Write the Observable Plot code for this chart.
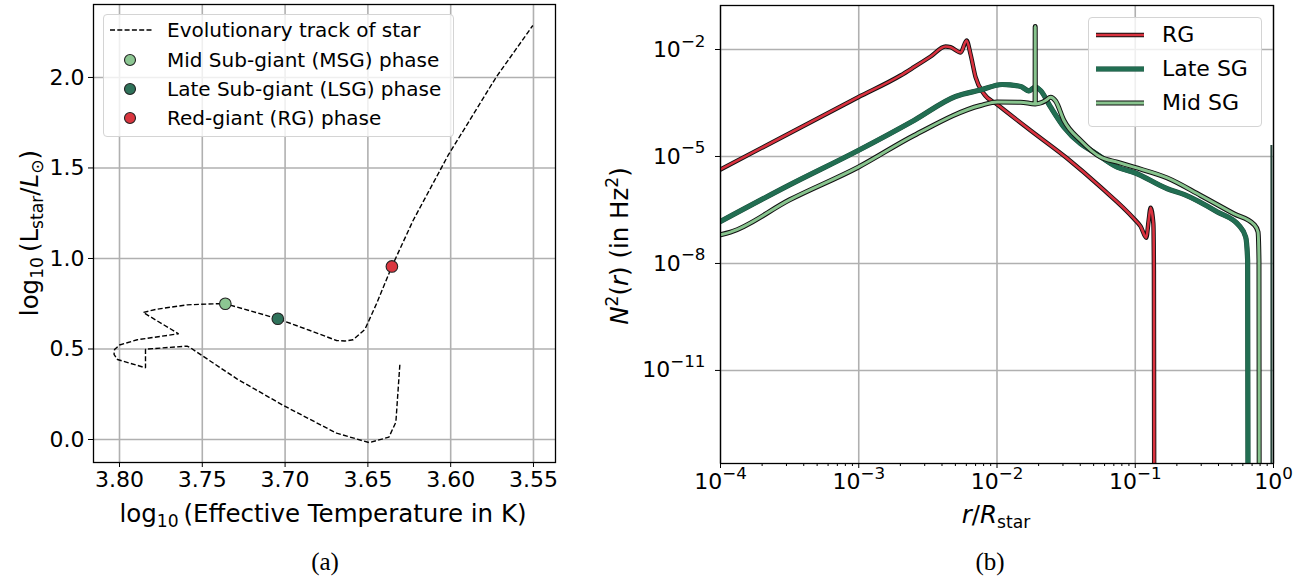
<!DOCTYPE html>
<html><head><meta charset="utf-8">
<script src="https://cdn.jsdelivr.net/npm/d3@7"></script>
<script src="https://cdn.jsdelivr.net/npm/@observablehq/plot@0.6"></script>
<style>
body{margin:0;background:#fff;}
#wrap{position:relative;width:1314px;height:581px;overflow:hidden;font-family:"DejaVu Sans",sans-serif;color:#000;background:#fff;}
.abs{position:absolute;white-space:nowrap;}
.lbl{font-size:24.5px;}
sub{font-size:0.7em;vertical-align:-0.3em;line-height:0}
sup{font-size:0.7em;vertical-align:0.55em;line-height:0}
.cap{font-family:"Liberation Serif",serif;font-size:25px}
.legend{position:absolute;border:1px solid #d4d4d4;border-radius:4px;background:rgba(255,255,255,0.8);box-sizing:border-box;}
svg.plot{position:absolute;top:0;}
</style></head><body><div id="wrap"></div>
<script>
// ---------- Panel (a): HR diagram ----------
const trackTeff = [3.6307,3.6331,3.6373,3.6492,3.6689,3.7010,3.7291,3.7572,3.7592,3.7843,3.7843,3.8012,3.8033,3.8030,3.8000,3.7893,3.7643,3.7857,3.7773,3.7592,3.7411,3.7361,3.7044,3.6849,3.6689,3.6639,3.6589,3.6518,3.6448,3.6355,3.6227,3.6016,3.5725,3.5504];
const trackLogL = [0.413,0.096,0.013,-0.017,0.035,0.188,0.335,0.507,0.516,0.499,0.396,0.442,0.470,0.497,0.522,0.551,0.584,0.702,0.720,0.744,0.750,0.750,0.667,0.602,0.547,0.544,0.551,0.608,0.750,0.956,1.210,1.569,2.002,2.287];
const phaseNames = ["Mid Sub-giant (MSG) phase","Late Sub-giant (LSG) phase","Red-giant (RG) phase"];
const phaseTeff = [3.7361,3.7044,3.6355];
const phaseLogL = [0.750,0.667,0.956];
const phaseColors = ["#8cc692","#2f725a","#d9363f"];
const xTicksA = [3.80,3.75,3.70,3.65,3.60,3.55];
const yTicksA = [0.0,0.5,1.0,1.5,2.0];

// ---------- Panel (b): Brunt-Vaisala frequency ----------
const seriesNames = ["RG","Late SG","Mid SG"];
const seriesColors = ["#d9323f","#226e52","#88c48e"];
const rgLogR  = [-4,-3.004,-2.698,-2.601,-2.480,-2.372,-2.336,-2.263,-2.220,-2.191,-2.155,-2.095,-1.998,-1.757,-1.491,-1.250,-1.009,-0.961,-0.920,-0.903,-0.889,-0.869,-0.865,-0.863];
const rgLogN2 = [-5.364,-3.337,-2.729,-2.496,-2.196,-1.916,-1.936,-2.084,-1.748,-2.140,-2.777,-3.242,-3.542,-4.271,-5.056,-5.860,-6.746,-6.962,-7.279,-6.790,-6.438,-6.886,-8.196,-14];
const lateLogR  = [-4,-3.5,-3.004,-2.601,-2.300,-2.119,-1.962,-1.829,-1.769,-1.724,-1.685,-1.612,-1.516,-1.395,-1.299,-1.130,-1.009,-0.768,-0.648,-0.406,-0.250,-0.201,-0.187,-0.1845];
const lateLogN2 = [-6.822,-5.796,-4.832,-3.990,-3.318,-3.135,-2.981,-3.037,-3.163,-3.051,-3.149,-3.618,-4.178,-4.644,-4.879,-5.300,-5.448,-5.905,-6.065,-6.556,-6.934,-7.262,-7.915,-14];
const midLogR  = [-4,-3.928,-3.5,-3.004,-2.601,-2.119,-1.998,-1.829,-1.7245,-1.7236,-1.7227,-1.685,-1.648,-1.612,-1.576,-1.516,-1.395,-1.250,-1.130,-1.009,-0.768,-0.527,-0.286,-0.141,-0.112,-0.105,-0.1035];
const midLogN2 = [-7.195,-7.122,-6.216,-5.300,-4.411,-3.570,-3.472,-3.477,-3.528,-1.355,-3.528,-3.500,-3.430,-3.337,-3.444,-3.990,-4.551,-5.019,-5.160,-5.300,-5.603,-6.093,-6.606,-6.906,-7.116,-7.915,-14];
const surfaceLogR = [-0.0152];
const surfaceLogN2Top = [-4.69];
const xTicksB = [1e-4,1e-3,1e-2,1e-1,1];
const yTicksB = [1e-2,1e-5,1e-8,1e-11];

const wrap = document.getElementById("wrap");
const font = {fontFamily:"DejaVu Sans", fontSize:"22px", color:"black", background:"transparent", overflow:"visible"};
const gridStyle = {stroke:"#b0b0b0", strokeOpacity:1, strokeWidth:1.6};

// Panel (a)
const track = trackTeff.map((t,i)=>({teff:t, logL:trackLogL[i]}));
const phases = phaseNames.map((n,i)=>({name:n, teff:phaseTeff[i], logL:phaseLogL[i], color:phaseColors[i]}));
const plotA = Plot.plot({
  width:657, height:540, marginLeft:93, marginRight:102, marginTop:4, marginBottom:78,
  style: font,
  x:{domain:[3.8157,3.5367]},
  y:{domain:[-0.127,2.403]},
  marks:[
    Plot.gridX(xTicksA, gridStyle),
    Plot.gridY(yTicksA, gridStyle),
    Plot.line(track, {x:"teff", y:"logL", stroke:"black", strokeWidth:1.4, strokeDasharray:"5,2.3", strokeLinejoin:"miter", strokeLinecap:"butt"}),
    Plot.dot(phases, {x:"teff", y:"logL", r:5.8, fill:"color", stroke:"#222", strokeWidth:1.1}),
    Plot.frame({stroke:"black", strokeWidth:1.3}),
    Plot.axisX(xTicksA, {tickFormat:d3.format(".2f"), tickSize:5, tickPadding:4, label:null}),
    Plot.axisY(yTicksA, {tickFormat:d3.format(".1f"), tickSize:5, tickPadding:4, label:null})
  ]
});
plotA.classList.add("plot");
plotA.style.left = "0px";
wrap.appendChild(plotA);

// Panel (b)
function mk(name, lr, ln){ return lr.map((v,i)=>({series:name, r:10**v, n2:10**ln[i]})); }
const rg = mk("RG", rgLogR, rgLogN2);
const late = mk("Late SG", lateLogR, lateLogN2);
const mid = mk("Mid SG", midLogR, midLogN2);
const surface = surfaceLogR.map((v,i)=>({r:10**v, top:10**surfaceLogN2Top[i], bottom:1e-14}));
const minorB = [];
for (let d=-4; d<0; d++) for (let m=2; m<10; m++) minorB.push(m*10**d);
const fmtPow = v => { const e = Math.round(Math.log10(v)); return "10^" + String(e).replace("-","−"); };
const cv = "monotone-x";
const plotB = Plot.plot({
  width:657, height:540, marginLeft:63, marginRight:41, marginTop:5, marginBottom:77,
  style: font,
  x:{type:"log", domain:[1e-4,1]},
  y:{type:"log", domain:[10**-13.61, 10**-0.766]},
  marks:[
    Plot.gridX(xTicksB, gridStyle),
    Plot.gridY(yTicksB, gridStyle),
    Plot.line(rg, {x:"r", y:"n2", stroke:"#111", strokeWidth:4.4, curve:cv, clip:true}),
    Plot.line(rg, {x:"r", y:"n2", stroke:seriesColors[0], strokeWidth:2.6, curve:cv, clip:true}),
    Plot.line(late, {x:"r", y:"n2", stroke:"#1d4d3b", strokeWidth:5.2, curve:cv, clip:true}),
    Plot.line(late, {x:"r", y:"n2", stroke:seriesColors[1], strokeWidth:4.4, curve:cv, clip:true}),
    Plot.line(mid, {x:"r", y:"n2", stroke:"#111", strokeWidth:5.0, curve:cv, clip:true}),
    Plot.line(mid, {x:"r", y:"n2", stroke:seriesColors[2], strokeWidth:3.0, curve:cv, clip:true}),
    Plot.ruleX(surface, {x:"r", y1:"bottom", y2:"top", stroke:"#27443a", strokeWidth:2, clip:true}),
    Plot.frame({stroke:"black", strokeWidth:1.3}),
    Plot.axisX(minorB, {tickSize:3, tickFormat:()=>"", label:null}),
    Plot.axisX(xTicksB, {tickFormat:fmtPow, tickSize:5, tickPadding:5, label:null}),
    Plot.axisY(yTicksB, {tickFormat:fmtPow, tickSize:5, tickPadding:10, label:null})
  ]
});
plotB.classList.add("plot");
plotB.style.left = "657px";
wrap.appendChild(plotB);
// render power labels with a raised exponent
d3.select(plotB).selectAll("text").each(function(){
  const t = this.textContent;
  if (t.indexOf("^") < 0) return;
  const [base, ex] = t.split("^");
  this.textContent = base;
  d3.select(this).append("tspan").attr("dy","-0.6em").attr("font-size","0.76em").text(ex);
});

// ---------- Labels, legends, captions (HTML) ----------
function add(html, css, cls){ const d=document.createElement("div"); d.className="abs "+(cls||""); d.innerHTML=html; Object.assign(d.style, css); wrap.appendChild(d); return d; }
// axis labels
add('log<sub>10</sub>&#8201;(Effective Temperature in K)', {left:"323px", top:"513px", transform:"translate(-50%,-50%)"}, "lbl");
add('log<sub>10</sub>&#8201;(L<sub>star</sub>/<i>L</i><sub>⊙</sub>)', {left:"29px", top:"233px", transform:"translate(-50%,-50%) rotate(-90deg)"}, "lbl");
add('<i>r</i>/<i>R</i><sub>star</sub>', {left:"996px", top:"514px", transform:"translate(-50%,-50%)"}, "lbl");
add('<i>N</i><sup>2</sup>(<i>r</i>) (in Hz<sup>2</sup>)', {left:"619px", top:"246px", transform:"translate(-50%,-50%) rotate(-90deg)"}, "lbl");
// captions
add('(a)', {left:"325px", top:"562px", transform:"translate(-50%,-50%)"}, "cap");
add('(b)', {left:"990px", top:"562px", transform:"translate(-50%,-50%)"}, "cap");

// legend (a)
const legA = document.createElement("div"); legA.className="legend";
Object.assign(legA.style,{left:"103px", top:"14px", width:"351px", height:"123px"}); wrap.appendChild(legA);
const rowsA = [30,60,89,118];
add('<svg width="46" height="12"><line x1="2" x2="44" y1="6" y2="6" stroke="black" stroke-width="1.4" stroke-dasharray="5,2.3"/></svg>', {left:"108px", top:(rowsA[0]-6)+"px", lineHeight:"0"});
add('Evolutionary track of star', {left:"167px", top:(rowsA[0]-12)+"px", fontSize:"20px", lineHeight:"24px"});
phases.forEach((p,i)=>{
  add(`<svg width="16" height="16"><circle cx="8" cy="8" r="5.5" fill="${p.color}" stroke="#222" stroke-width="1.1"/></svg>`, {left:"122px", top:(rowsA[i+1]-8)+"px", lineHeight:"0"});
  add(p.name, {left:"167px", top:(rowsA[i+1]-12)+"px", fontSize:"20px", lineHeight:"24px"});
});

// legend (b)
const legB = document.createElement("div"); legB.className="legend";
Object.assign(legB.style,{left:"1088px", top:"17px", width:"174px", height:"110px"}); wrap.appendChild(legB);
const rowsB = [35,69,103];
const swB = [
  '<line x1="3" x2="51" y1="7" y2="7" stroke="#111" stroke-width="4.4"/><line x1="3" x2="51" y1="7" y2="7" stroke="'+seriesColors[0]+'" stroke-width="2.6"/>',
  '<line x1="3" x2="51" y1="7" y2="7" stroke="#1d4d3b" stroke-width="5.2"/><line x1="3" x2="51" y1="7" y2="7" stroke="'+seriesColors[1]+'" stroke-width="4.4"/>',
  '<line x1="3" x2="51" y1="7" y2="7" stroke="#111" stroke-width="5"/><line x1="3" x2="51" y1="7" y2="7" stroke="'+seriesColors[2]+'" stroke-width="3"/>'
];
seriesNames.forEach((n,i)=>{
  add('<svg width="54" height="14">'+swB[i]+'</svg>', {left:"1093px", top:(rowsB[i]-7)+"px", lineHeight:"0"});
  add(n, {left:"1162px", top:(rowsB[i]-13)+"px", fontSize:"22px", lineHeight:"26px"});
});
</script></body></html>
